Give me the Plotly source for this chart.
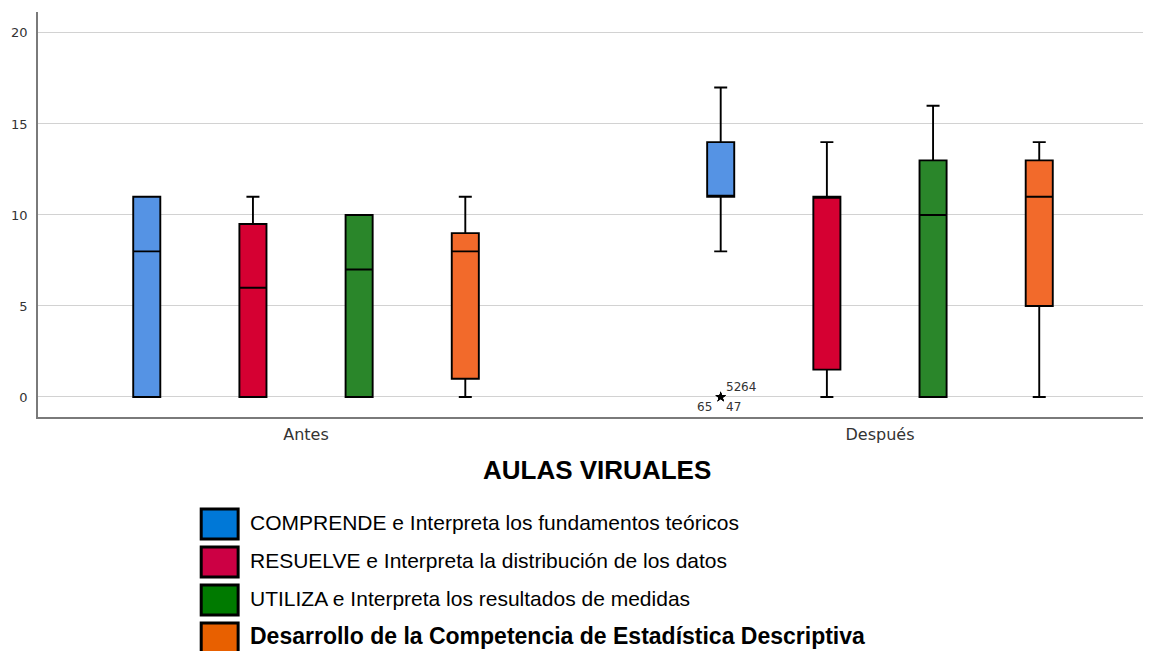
import plotly.graph_objects as go

# ---------------- data ----------------
groups = ["Antes", "Después"]
series_names = [
    "COMPRENDE e Interpreta los fundamentos teóricos",
    "RESUELVE e Interpreta la distribución de los datos",
    "UTILIZA e Interpreta los resultados de medidas",
    "Desarrollo de la Competencia de Estadística Descriptiva",
]
# values per series, one per group (Antes, Después)
lower_whisker = [[0, 8], [0, 0], [0, 0], [0, 0]]
q1_values = [[0, 11], [0, 1.5], [0, 0], [1, 5]]
median_values = [[8, 11], [6, 11], [7, 10], [8, 11]]
q3_values = [[11, 14], [9.5, 11], [10, 13], [9, 13]]
upper_whisker = [[11, 17], [11, 14], [10, 16], [11, 14]]
# extreme cases (sample points outside whiskers); None = no case
outlier_points = [[[None], [0, 0, 0, 0]], None, None, None]
outlier_ids = ["52", "64", "65", "47"]
y_tick_values = [0, 5, 10, 15, 20]
chart_title = "AULAS VIRUALES"

# ---------------- style ----------------
box_colors = ["#5593E4", "#D50032", "#2A862A", "#F26A2B"]
legend_colors = ["#0078D7", "#CC0044", "#007A00", "#E86000"]
BOXGAP = 0.26
BOXGROUPGAP = 0.745
OFF = 8  # page body margin
W, H = 1151 - OFF, 651 - OFF
PLOT_L, PLOT_R, PLOT_T, PLOT_B = 36, 1148, 12, 417  # in window pixels
ML, MR, MT, MB = PLOT_L - OFF, W - (PLOT_R - OFF), PLOT_T - OFF, H - (PLOT_B - OFF)
PW = W - ML - MR
PH = H - MT - MB


def px_x(p):
    return (p - PLOT_L) / PW


def px_y(p):
    return (PLOT_B - p) / PH


fig = go.Figure()
for i, name in enumerate(series_names):
    kw = {}
    if outlier_points[i] is not None:
        kw["y"] = outlier_points[i]
    fig.add_trace(go.Box(
        name=name,
        x=groups,
        lowerfence=lower_whisker[i],
        q1=q1_values[i],
        median=median_values[i],
        q3=q3_values[i],
        upperfence=upper_whisker[i],
        orientation="v",
        fillcolor=box_colors[i],
        line=dict(color="#000000", width=1.9),
        whiskerwidth=0.48,
        boxpoints="outliers",
        jitter=0,
        pointpos=0,
        marker=dict(symbol="star", color="#000000", size=8,
                    line=dict(width=0)),
        showlegend=False,
        hoverinfo="skip",
        **kw,
    ))

# outlier case labels, placed next to the star of its series
slot = (1 - BOXGAP) / len(series_names)
label_offsets = [(3, -10, "left"), (18, -10, "left"), (-7, 10, "right"), (3, 10, "left")]
for i_s, pts_s in enumerate(outlier_points):
    if pts_s is None:
        continue
    for g, pts in enumerate(pts_s):
        pts = [p for p in pts if p is not None]
        if not pts:
            continue
        xpos = g + (i_s - (len(series_names) - 1) / 2) * slot
        for k, lab in enumerate(outlier_ids):
            dx, dy, anc = label_offsets[k]
            fig.add_annotation(
                x=xpos, y=pts[k], xref="x", yref="y", text=lab,
                showarrow=False, xanchor=anc, yanchor="middle",
                xshift=dx, yshift=-dy,
                font=dict(family="DejaVu Sans", size=12, color="#333333"),
            )

# title below axis
fig.add_annotation(
    x=px_x(596), y=px_y(470), xref="paper", yref="paper",
    text="<b>%s</b>" % chart_title, showarrow=False,
    xanchor="center", yanchor="middle",
    font=dict(family="Liberation Sans, Arial", size=26, color="#000000"),
)

# custom legend
row_y0 = 524
row_step = 38
for i, name in enumerate(series_names):
    cy = row_y0 + i * row_step
    fig.add_shape(
        type="rect", xref="paper", yref="paper",
        x0=px_x(199.5), x1=px_x(236.5), y0=px_y(cy - 15), y1=px_y(cy + 15),
        fillcolor=legend_colors[i], line=dict(color="#000000", width=3),
        layer="above",
    )
    last = i == len(series_names) - 1
    txt = "<b>%s</b>" % name if last else name
    fig.add_annotation(
        x=px_x(246), y=px_y(cy - 2), xref="paper", yref="paper",
        text=txt, showarrow=False, xanchor="left", yanchor="middle",
        font=dict(family="Liberation Sans, Arial", size=23 if last else 21,
                  color="#000000"),
    )

fig.update_layout(
    width=W, height=H,
    margin=dict(l=ML, r=MR, t=MT, b=MB, pad=0),
    paper_bgcolor="white", plot_bgcolor="white",
    boxmode="group", boxgap=BOXGAP, boxgroupgap=BOXGROUPGAP,
    showlegend=False,
    xaxis=dict(
        type="category", range=[-0.467, 1.467],
        showgrid=False, zeroline=False,
        showline=True, linecolor="#7a7a7a", linewidth=1.5,
        ticks="", ticklabelstandoff=2,
        tickfont=dict(family="DejaVu Sans", size=16, color="#333333"),
        fixedrange=True,
    ),
    yaxis=dict(
        range=[-1.1, 21.15], tickvals=y_tick_values,
        showgrid=True, gridcolor="#d2d2d2", gridwidth=1,
        zeroline=True, zerolinecolor="#d2d2d2", zerolinewidth=1,
        showline=True, linecolor="#7a7a7a", linewidth=1.5,
        ticks="", ticklabelstandoff=6,
        tickfont=dict(family="DejaVu Sans", size=13, color="#333333"),
        fixedrange=True,
    ),
)

fig.write_html("out.html")
